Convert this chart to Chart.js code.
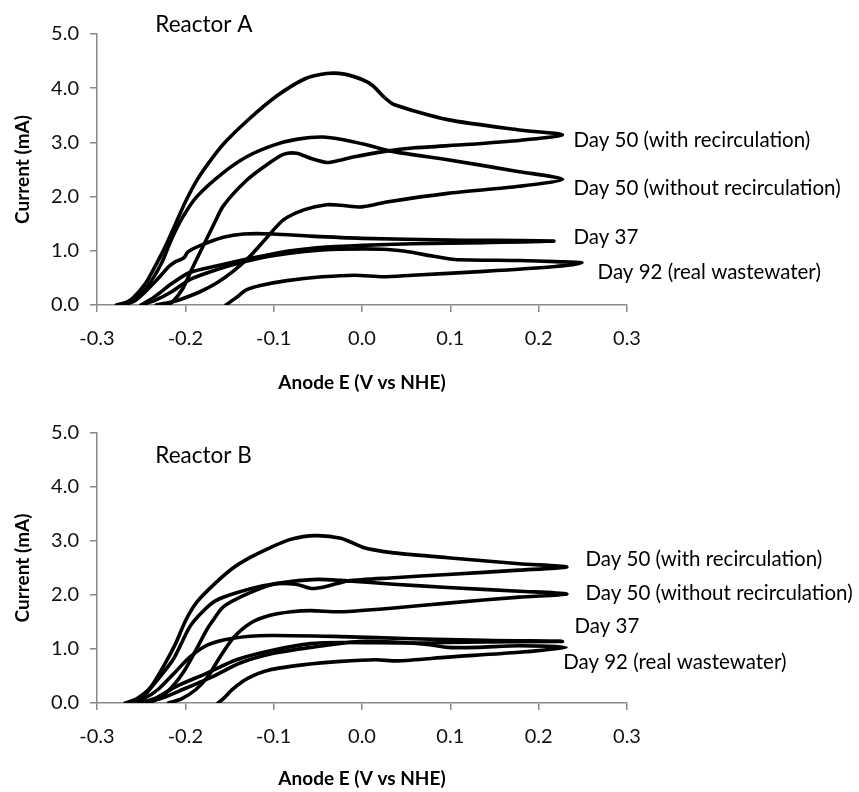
<!DOCTYPE html>
<html><head><meta charset="utf-8">
<script src="https://cdn.jsdelivr.net/npm/chart.js@4.4.0/dist/chart.umd.min.js"></script>
<style>
html,body{margin:0;padding:0;background:#fff;}
#wrap{width:859px;height:792px;position:relative;overflow:hidden;}
.c{position:absolute;left:0;width:859px;height:396px;}
</style></head><body>
<div id="wrap">
<div class="c" style="top:0"><canvas id="cA" width="859" height="396"></canvas></div>
<div class="c" style="top:396px"><canvas id="cB" width="859" height="396"></canvas></div>
</div>
<script>
// ---- tick labels ----
const xTicks = [-0.3, -0.2, -0.1, 0.0, 0.1, 0.2, 0.3];
const yTicks = [0, 1, 2, 3, 4, 5];
const seriesNames = ['Day 50 (with recirculation)', 'Day 50 (without recirculation)', 'Day 37', 'Day 92 (real wastewater)'];
const panelTitles = ['Reactor A', 'Reactor B'];

// ---- Reactor A: [E (V vs NHE), current (mA)] ; fwd = upper branch, rev = lower branch ----
const A_day50_with_fwd = [[-0.272,0],[-0.26,0.12],[-0.245,0.4],[-0.233,0.75],[-0.222,1.1],[-0.211,1.5],[-0.2,1.9],[-0.187,2.3],[-0.17,2.7],[-0.154,3.02],[-0.13,3.4],[-0.097,3.85],[-0.065,4.17],[-0.04,4.27],[-0.02,4.26],[0.0,4.16],[0.012,4.05],[0.024,3.85],[0.036,3.7],[0.097,3.42],[0.178,3.23],[0.227,3.14]];
const A_day50_with_rev = [[0.227,3.14],[0.18,3.04],[0.118,2.96],[0.06,2.9],[0.024,2.83],[-0.01,2.73],[-0.028,2.66],[-0.04,2.63],[-0.057,2.7],[-0.074,2.8],[-0.089,2.78],[-0.105,2.62],[-0.13,2.31],[-0.157,1.83],[-0.168,1.48],[-0.178,1.15],[-0.193,0.65],[-0.203,0.3],[-0.215,0.05],[-0.222,0]];
const A_day50_without_fwd = [[-0.278,0],[-0.259,0.09],[-0.243,0.34],[-0.227,0.77],[-0.216,1.2],[-0.203,1.62],[-0.187,2.0],[-0.158,2.43],[-0.13,2.74],[-0.1,2.95],[-0.073,3.06],[-0.045,3.1],[-0.021,3.05],[0.004,2.96],[0.036,2.83],[0.097,2.68],[0.178,2.46],[0.227,2.32]];
const A_day50_without_rev = [[0.227,2.32],[0.178,2.19],[0.097,2.06],[0.028,1.9],[0.0,1.81],[-0.024,1.84],[-0.04,1.85],[-0.065,1.76],[-0.089,1.57],[-0.109,1.22],[-0.128,0.88],[-0.146,0.62],[-0.165,0.4],[-0.184,0.24],[-0.21,0.08],[-0.233,0]];
const A_day37_fwd = [[-0.27,0],[-0.258,0.07],[-0.245,0.25],[-0.233,0.45],[-0.218,0.72],[-0.211,0.8],[-0.205,0.84],[-0.201,0.88],[-0.197,0.98],[-0.184,1.09],[-0.157,1.25],[-0.134,1.31],[-0.1,1.31],[-0.058,1.27],[0.0,1.23],[0.1,1.2],[0.217,1.18]];
const A_day37_rev = [[0.217,1.18],[0.138,1.15],[0.057,1.13],[0.0,1.1],[-0.04,1.07],[-0.081,1.0],[-0.114,0.9],[-0.138,0.82],[-0.165,0.72],[-0.195,0.6],[-0.215,0.4],[-0.235,0.15],[-0.25,0]];
const A_day92_fwd = [[-0.25,0],[-0.235,0.08],[-0.215,0.25],[-0.195,0.47],[-0.165,0.65],[-0.138,0.78],[-0.105,0.9],[-0.065,0.99],[-0.024,1.03],[0.024,1.03],[0.049,0.99],[0.081,0.9],[0.105,0.84],[0.178,0.82],[0.219,0.8],[0.249,0.78]];
const A_day92_rev = [[0.249,0.78],[0.219,0.71],[0.138,0.62],[0.057,0.55],[0.024,0.52],[-0.008,0.55],[-0.045,0.52],[-0.085,0.45],[-0.115,0.36],[-0.131,0.28],[-0.142,0.14],[-0.154,0]];

// ---- Reactor B ----
const B_day50_with_fwd = [[-0.268,0],[-0.255,0.08],[-0.239,0.3],[-0.223,0.73],[-0.211,1.1],[-0.199,1.55],[-0.187,1.87],[-0.166,2.22],[-0.146,2.5],[-0.126,2.7],[-0.105,2.87],[-0.081,3.03],[-0.053,3.1],[-0.024,3.05],[0.0,2.89],[0.012,2.84],[0.036,2.78],[0.097,2.69],[0.178,2.58],[0.232,2.52]];
const B_day50_with_rev = [[0.232,2.52],[0.178,2.46],[0.097,2.38],[0.036,2.32],[-0.016,2.26],[-0.04,2.16],[-0.057,2.12],[-0.075,2.2],[-0.1,2.2],[-0.13,2.02],[-0.157,1.78],[-0.17,1.5],[-0.176,1.35],[-0.188,0.98],[-0.203,0.55],[-0.219,0.23],[-0.235,0.05],[-0.245,0]];
const B_day50_without_fwd = [[-0.264,0],[-0.25,0.08],[-0.235,0.36],[-0.214,0.8],[-0.195,1.41],[-0.18,1.7],[-0.165,1.9],[-0.142,2.04],[-0.112,2.17],[-0.081,2.25],[-0.05,2.29],[-0.024,2.27],[0.036,2.2],[0.097,2.14],[0.178,2.07],[0.232,2.02]];
const B_day50_without_rev = [[0.232,2.02],[0.178,1.96],[0.097,1.85],[0.036,1.76],[-0.024,1.69],[-0.058,1.71],[-0.08,1.69],[-0.105,1.62],[-0.126,1.48],[-0.146,1.2],[-0.162,0.82],[-0.174,0.5],[-0.188,0.25],[-0.205,0.07],[-0.219,0]];
const B_day37_fwd = [[-0.264,0],[-0.247,0.08],[-0.231,0.25],[-0.211,0.58],[-0.195,0.85],[-0.174,1.08],[-0.146,1.2],[-0.105,1.25],[-0.024,1.23],[0.057,1.19],[0.138,1.16],[0.227,1.14]];
const B_day37_rev = [[0.227,1.14],[0.138,1.13],[0.057,1.11],[-0.024,1.12],[-0.058,1.1],[-0.1,0.98],[-0.142,0.8],[-0.176,0.55],[-0.21,0.31],[-0.235,0.08],[-0.252,0]];
const B_day92_fwd = [[-0.245,0],[-0.225,0.1],[-0.203,0.25],[-0.169,0.49],[-0.138,0.74],[-0.1,0.92],[-0.058,1.03],[-0.004,1.14],[0.036,1.13],[0.077,1.08],[0.097,1.03],[0.13,1.03],[0.178,1.06],[0.231,1.03]];
const B_day92_rev = [[0.231,1.03],[0.178,0.94],[0.097,0.85],[0.04,0.78],[0.016,0.8],[-0.024,0.77],[-0.065,0.71],[-0.105,0.61],[-0.13,0.45],[-0.146,0.26],[-0.157,0.08],[-0.163,0]];

// ---- label anchors (data coords: left edge, vertical centre) ----
const labelAnchorsA = [[0.2394,3.04],[0.2394,2.16],[0.2394,1.25],[0.2667,0.61]];
const labelAnchorsB = [[0.253,2.66],[0.253,2.03],[0.2406,1.41],[0.2277,0.76]];
const titleAnchorA = [-0.234, 5.17];
const titleAnchorB = [-0.234, 4.57];

const FONT = 'Lato, "Open Sans", "DejaVu Sans", sans-serif';
const AXIS_COLOR = '#898989';

function loop(fwd, rev) {
  return fwd.concat(rev.slice(1)).map(p => ({x: p[0], y: p[1]}));
}
function fmt(v) { return Math.abs(v) < 1e-9 ? '0.0' : Number(v).toFixed(1); }

function makeChart(id, loops, anchors, title, titleAnchor, padTop, xAxisHeight) {
  const textPlugin = {
    id: 'texts',
    afterDraw(chart) {
      const ctx = chart.ctx, xs = chart.scales.x, ys = chart.scales.y;
      ctx.save();
      ctx.fillStyle = '#000';
      ctx.textAlign = 'left';
      ctx.textBaseline = 'middle';
      ctx.font = '20.5px ' + FONT;
      seriesNames.forEach((n, i) => {
        ctx.fillText(n, xs.getPixelForValue(anchors[i][0]), ys.getPixelForValue(anchors[i][1]));
      });
      ctx.font = '22.5px ' + FONT;
      ctx.fillText(title, xs.getPixelForValue(titleAnchor[0]), ys.getPixelForValue(titleAnchor[1]));
      ctx.restore();
    }
  };
  return new Chart(document.getElementById(id), {
    type: 'scatter',
    data: {
      datasets: loops.map((l, i) => ({
        label: seriesNames[i],
        data: loop(l[0], l[1]),
        showLine: true,
        borderColor: '#000',
        backgroundColor: '#000',
        borderWidth: 3.6,
        pointRadius: 0,
        tension: 0.25,
        fill: false,
        borderCapStyle: 'round',
        borderJoinStyle: 'round'
      }))
    },
    options: {
      responsive: false,
      animation: false,
      devicePixelRatio: 1,
      layout: {padding: {top: padTop, right: 232, left: 0, bottom: 0}},
      plugins: {legend: {display: false}, tooltip: {enabled: false}},
      scales: {
        x: {
          type: 'linear', min: -0.3, max: 0.3,
          afterBuildTicks: s => { s.ticks = xTicks.map(v => ({value: v})); },
          afterFit: s => { s.height = xAxisHeight; },
          ticks: {callback: v => fmt(v), color: '#111', font: {family: FONT, size: 20}, padding: 15, maxRotation: 0, autoSkip: false},
          grid: {drawOnChartArea: false, drawTicks: true, tickLength: 7, color: AXIS_COLOR, lineWidth: 1.5},
          border: {display: true, color: AXIS_COLOR, width: 1.5},
          title: {display: true, text: 'Anode E (V vs NHE)', color: '#000', font: {family: FONT, size: 19, weight: 'bold'}, padding: {top: 0, bottom: 2}}
        },
        y: {
          type: 'linear', min: 0, max: 5,
          afterBuildTicks: s => { s.ticks = yTicks.map(v => ({value: v})); },
          afterFit: s => { s.width = 97; },
          ticks: {callback: v => fmt(v), color: '#111', font: {family: FONT, size: 20}, padding: 11},
          grid: {drawOnChartArea: false, drawTicks: true, tickLength: 7, color: AXIS_COLOR, lineWidth: 1.5},
          border: {display: true, color: AXIS_COLOR, width: 1.5},
          title: {display: true, text: 'Current (mA)', color: '#000', font: {family: FONT, size: 19, weight: 'bold'}, padding: {top: 11, bottom: 0}}
        }
      }
    },
    plugins: [textPlugin]
  });
}

makeChart('cA', [
  [A_day50_with_fwd, A_day50_with_rev],
  [A_day50_without_fwd, A_day50_without_rev],
  [A_day37_fwd, A_day37_rev],
  [A_day92_fwd, A_day92_rev]
], labelAnchorsA, panelTitles[0], titleAnchorA, 34, 91);

makeChart('cB', [
  [B_day50_with_fwd, B_day50_with_rev],
  [B_day50_without_fwd, B_day50_without_rev],
  [B_day37_fwd, B_day37_rev],
  [B_day92_fwd, B_day92_rev]
], labelAnchorsB, panelTitles[1], titleAnchorB, 37, 89);
</script>
</body></html>
